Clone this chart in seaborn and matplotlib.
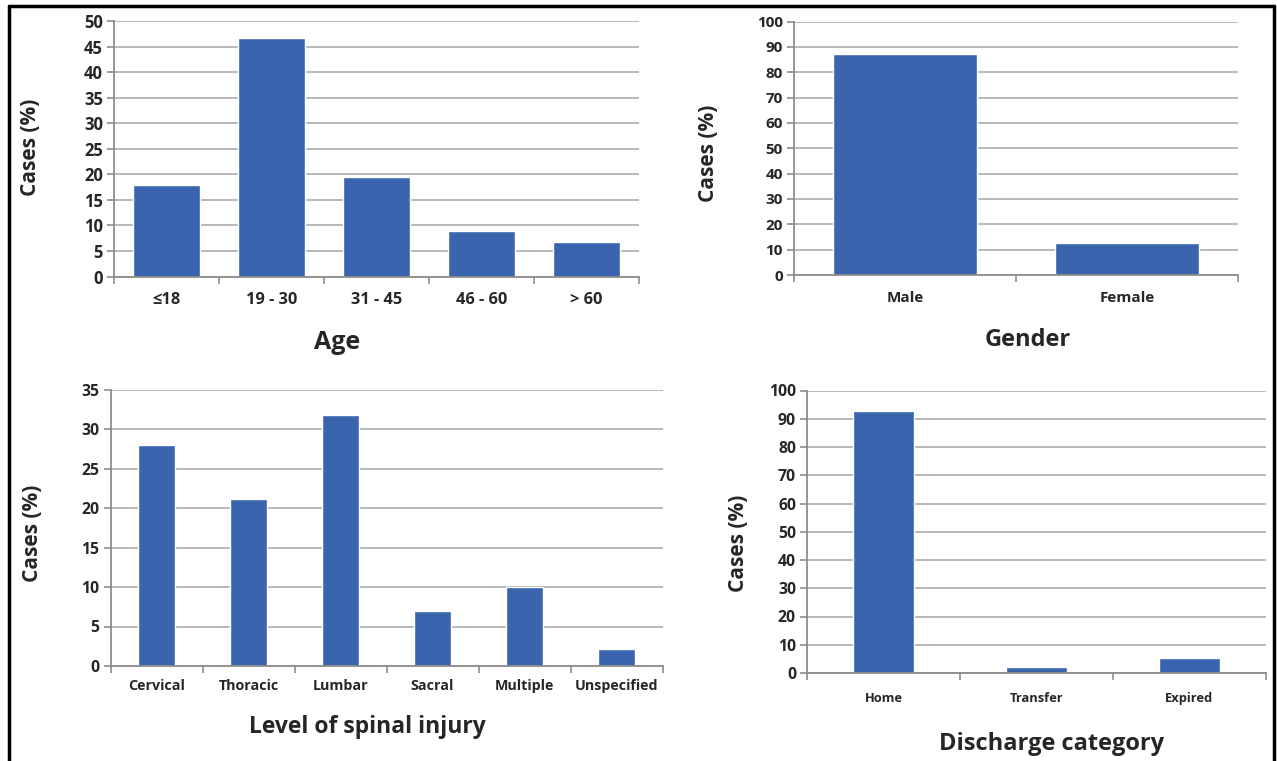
import matplotlib
matplotlib.use("Agg")
import matplotlib.pyplot as plt
from matplotlib.lines import Line2D
import seaborn as sns
import numpy as np

# data
age_groups = ["≤18", "19 - 30", "31 - 45", "46 - 60", "> 60"]
age_pct = [17.9, 46.6, 19.5, 8.9, 6.7]

genders = ["Male", "Female"]
gender_pct = [87.2, 12.6]

injury_levels = ["Cervical", "Thoracic", "Lumbar", "Sacral", "Multiple", "Unspecified"]
injury_pct = [28.0, 21.1, 31.8, 6.9, 10.0, 2.2]

discharge = ["Home", "Transfer", "Expired"]
discharge_pct = [92.8, 2.1, 5.3]

W, H = 1277, 761
BAR = "#3A65AE"
GRID = "#a6a6a6"
SPINE = "#8c8c8c"

sns.set_style("white")
plt.rcParams["font.family"] = ["Open Sans", "DejaVu Sans"]
plt.rcParams["font.weight"] = "bold"
plt.rcParams["axes.labelweight"] = "bold"

fig = plt.figure(figsize=(W / 100, H / 100), dpi=100)


def px_axes(l, t, r, b):
    # pixel box (top-left origin) -> figure fraction
    return fig.add_axes([l / W, (H - b) / H, (r - l) / W, (b - t) / H])


def bar_panel(ax, cats, vals, ymax, ystep, width, xlabel, xlab_xy, ylab_xy,
              ytick_fs, xtick_fs, xpad, xlabel_fs=17):
    sns.barplot(x=cats, y=vals, color=BAR, saturation=1, width=width, ax=ax)
    n = len(cats)
    ax.set_xlim(-0.5, n - 0.5)
    ax.set_ylim(0, ymax)
    ax.set_yticks(np.arange(0, ymax + 0.1, ystep))
    ax.yaxis.grid(True, color=GRID, linewidth=1.1)
    ax.set_axisbelow(True)
    for s in ["top", "right"]:
        ax.spines[s].set_visible(False)
    for s in ["left", "bottom"]:
        ax.spines[s].set_color(SPINE)
        ax.spines[s].set_linewidth(1.3)
    ax.tick_params(axis="y", direction="out", length=5, width=1.2, color=SPINE,
                   left=True, labelsize=ytick_fs, pad=3)
    ax.tick_params(axis="x", which="major", length=0, labelsize=xtick_fs, pad=xpad)
    ax.set_xticks(np.arange(-0.5, n), minor=True)
    ax.tick_params(axis="x", which="minor", direction="out", length=5, width=1.2,
                   color=SPINE, bottom=True)
    ax.set_xlabel(xlabel, fontsize=xlabel_fs)
    ax.set_ylabel("Cases (%)", fontsize=15)
    to_fig = fig.transFigure
    ax.xaxis.set_label_coords(xlab_xy[0] / W, 1 - xlab_xy[1] / H, transform=to_fig)
    ax.yaxis.set_label_coords(ylab_xy[0] / W, 1 - ylab_xy[1] / H, transform=to_fig)
    ax.xaxis.label.set_va("center")
    ax.yaxis.label.set_va("center")


ax1 = px_axes(114, 21, 639, 276.5)
bar_panel(ax1, age_groups, age_pct, 50, 5, 0.64, "Age", (337, 342), (31, 147),
          12, 11.8, 11.4, xlabel_fs=18)

ax2 = px_axes(794, 21.5, 1238, 275)
bar_panel(ax2, genders, gender_pct, 100, 10, 0.645, "Gender", (1028, 340), (709, 153),
          11, 11, 11.4)

ax3 = px_axes(110.5, 389.5, 662.5, 666)
bar_panel(ax3, injury_levels, injury_pct, 35, 5, 0.41, "Level of spinal injury",
          (367, 727), (33, 533), 11.3, 10.3, 9.6, xlabel_fs=16.5)

ax4 = px_axes(807, 390.5, 1266, 673)
bar_panel(ax4, discharge, discharge_pct, 100, 10, 0.4, "Discharge category",
          (1052, 744), (738, 543), 11.3, 9.3, 13.5)

# black frame around the panels (open at the bottom)
frame = dict(color="black", linewidth=2.5, transform=fig.transFigure)
fig.add_artist(Line2D([9 / W, 9 / W], [0, 1 - 6 / H], **frame))
fig.add_artist(Line2D([9 / W, 1274 / W], [1 - 6 / H, 1 - 6 / H], **frame))
fig.add_artist(Line2D([1274 / W, 1274 / W], [0, 1 - 6 / H], **frame))

fig.savefig("out.png", dpi=100)
